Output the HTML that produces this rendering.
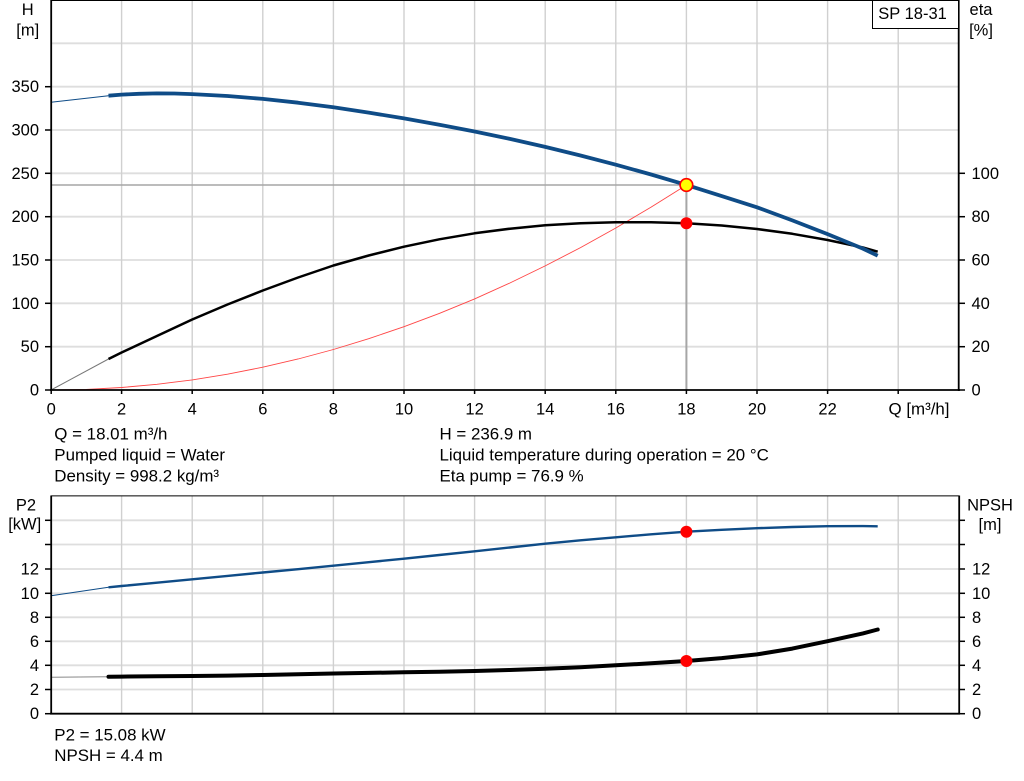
<!DOCTYPE html>
<html>
<head>
<meta charset="utf-8">
<style>
html,body{margin:0;padding:0;background:#fff;}
body{width:1024px;height:781px;overflow:hidden;position:relative;}
svg{position:absolute;left:0;top:0;}
text{font-family:"Liberation Sans",Arial,sans-serif;font-size:16.5px;fill:#000;}
text.info{font-size:16.9px;}
</style>
</head>
<body>
<svg width="1024" height="781" viewBox="0 0 1024 781" xmlns="http://www.w3.org/2000/svg">
<!-- ================= TOP CHART ================= -->
<g stroke="#dedede" stroke-width="1.8">
<line x1="51" y1="346.7" x2="959" y2="346.7"/>
<line x1="51" y1="303.3" x2="959" y2="303.3"/>
<line x1="51" y1="260" x2="959" y2="260"/>
<line x1="51" y1="216.7" x2="959" y2="216.7"/>
<line x1="51" y1="173.3" x2="959" y2="173.3"/>
<line x1="51" y1="130" x2="959" y2="130"/>
<line x1="51" y1="86.7" x2="959" y2="86.7"/>
<line x1="51" y1="43.3" x2="959" y2="43.3"/>
</g>
<g stroke="#d0d0d0" stroke-width="1.4">
<line x1="121.6" y1="0" x2="121.6" y2="390"/>
<line x1="192.2" y1="0" x2="192.2" y2="390"/>
<line x1="262.8" y1="0" x2="262.8" y2="390"/>
<line x1="333.4" y1="0" x2="333.4" y2="390"/>
<line x1="404" y1="0" x2="404" y2="390"/>
<line x1="474.6" y1="0" x2="474.6" y2="390"/>
<line x1="545.2" y1="0" x2="545.2" y2="390"/>
<line x1="615.8" y1="0" x2="615.8" y2="390"/>
<line x1="686.4" y1="0" x2="686.4" y2="390"/>
<line x1="757" y1="0" x2="757" y2="390"/>
<line x1="827.6" y1="0" x2="827.6" y2="390"/>
<line x1="898.2" y1="0" x2="898.2" y2="390"/>
</g>
<line x1="51" y1="185" x2="686.4" y2="185" stroke="#a6a6a6" stroke-width="1.6"/>
<line x1="686.4" y1="185" x2="686.4" y2="390" stroke="#a6a6a6" stroke-width="2"/>

<polyline fill="none" stroke="#ff4646" stroke-width="0.9" points="51,390 86.3,389.4 121.6,387.5 156.9,384.3 192.2,379.9 227.5,374.2 262.8,367.2 298.1,359 333.4,349.5 368.7,338.7 404,326.7 439.3,313.4 474.6,298.9 509.9,283 545.2,265.9 580.5,247.6 615.8,228 651.1,207.1 686.5,185"/>

<polyline fill="none" stroke="#777" stroke-width="1" points="51,390 108.5,359"/>
<polyline fill="none" stroke="#000" stroke-width="2.5" stroke-linejoin="round" points="108.5,359 121.6,352.5 156.9,336 192.2,319.5 227.5,304.5 262.8,290.5 298.1,277.5 333.4,265.5 368.7,255.5 404,246.7 439.3,239.3 474.6,233.3 509.9,228.7 545.2,225.3 580.5,223.2 615.8,222.3 651.1,222.2 686.4,223.3 721.7,225.5 757,229 792.3,233.8 827.6,240 862.9,247.5 877.7,251.7"/>

<polyline fill="none" stroke="#0f4c87" stroke-width="1" points="51,102.3 108.5,95.7"/>
<polyline fill="none" stroke="#0f4c87" stroke-width="3.8" stroke-linejoin="round" points="108.5,95.7 121.6,94.6 139,93.8 156.9,93.4 174.5,93.5 192.2,94.1 227.5,96 262.8,98.9 298.1,102.7 333.4,107.3 368.7,112.6 404,118.4 439.3,124.7 474.6,131.5 509.9,138.9 545.2,146.9 580.5,155.5 615.8,164.7 651.1,174.5 686.4,184.9 721.7,196 757,207.3 792.3,220.4 827.6,234.1 862.9,248.6 877.7,255.7"/>

<circle cx="686.4" cy="223.3" r="6" fill="#ff0000"/>
<circle cx="686.4" cy="185" r="6.3" fill="#ffff00" stroke="#ff0000" stroke-width="1.7"/>

<line x1="51" y1="0.5" x2="959" y2="0.5" stroke="#000" stroke-width="1"/>
<line x1="51.2" y1="0" x2="51.2" y2="391" stroke="#000" stroke-width="1.8"/>
<line x1="958.7" y1="0" x2="958.7" y2="391" stroke="#000" stroke-width="1.8"/>
<line x1="50" y1="390" x2="960" y2="390" stroke="#000" stroke-width="1.8"/>
<g stroke="#000" stroke-width="1.5">
<line x1="45" y1="390" x2="51" y2="390"/>
<line x1="45" y1="346.7" x2="51" y2="346.7"/>
<line x1="45" y1="303.3" x2="51" y2="303.3"/>
<line x1="45" y1="260" x2="51" y2="260"/>
<line x1="45" y1="216.7" x2="51" y2="216.7"/>
<line x1="45" y1="173.3" x2="51" y2="173.3"/>
<line x1="45" y1="130" x2="51" y2="130"/>
<line x1="45" y1="86.7" x2="51" y2="86.7"/>
<line x1="959" y1="390" x2="965" y2="390"/>
<line x1="959" y1="346.7" x2="965" y2="346.7"/>
<line x1="959" y1="303.3" x2="965" y2="303.3"/>
<line x1="959" y1="260" x2="965" y2="260"/>
<line x1="959" y1="216.7" x2="965" y2="216.7"/>
<line x1="959" y1="173.3" x2="965" y2="173.3"/>
<line x1="51.2" y1="390" x2="51.2" y2="394"/>
<line x1="121.6" y1="390" x2="121.6" y2="394"/>
<line x1="192.2" y1="390" x2="192.2" y2="394"/>
<line x1="262.8" y1="390" x2="262.8" y2="394"/>
<line x1="333.4" y1="390" x2="333.4" y2="394"/>
<line x1="404" y1="390" x2="404" y2="394"/>
<line x1="474.6" y1="390" x2="474.6" y2="394"/>
<line x1="545.2" y1="390" x2="545.2" y2="394"/>
<line x1="615.8" y1="390" x2="615.8" y2="394"/>
<line x1="686.4" y1="390" x2="686.4" y2="394"/>
<line x1="757" y1="390" x2="757" y2="394"/>
<line x1="827.6" y1="390" x2="827.6" y2="394"/>
<line x1="898.2" y1="390" x2="898.2" y2="394"/>
</g>
<g text-anchor="end">
<text x="39" y="395.5">0</text>
<text x="39" y="352.2">50</text>
<text x="39" y="308.8">100</text>
<text x="39" y="265.5">150</text>
<text x="39" y="222.2">200</text>
<text x="39" y="178.8">250</text>
<text x="39" y="135.5">300</text>
<text x="39" y="92.2">350</text>
</g>
<g text-anchor="start">
<text x="971.5" y="395.5">0</text>
<text x="971.5" y="352.2">20</text>
<text x="971.5" y="308.8">40</text>
<text x="971.5" y="265.5">60</text>
<text x="971.5" y="222.2">80</text>
<text x="971.5" y="178.8">100</text>
</g>
<g text-anchor="middle">
<text x="51.2" y="414.5">0</text>
<text x="121.6" y="414.5">2</text>
<text x="192.2" y="414.5">4</text>
<text x="262.8" y="414.5">6</text>
<text x="333.4" y="414.5">8</text>
<text x="404" y="414.5">10</text>
<text x="474.6" y="414.5">12</text>
<text x="545.2" y="414.5">14</text>
<text x="615.8" y="414.5">16</text>
<text x="686.4" y="414.5">18</text>
<text x="757" y="414.5">20</text>
<text x="827.6" y="414.5">22</text>
<text x="27.7" y="15">H</text>
<text x="27.7" y="35.5">[m]</text>
<text x="981" y="15">eta</text>
<text x="981" y="35.5">[%]</text>
</g>
<text x="888.5" y="414.5" class="info">Q [m³/h]</text>

<rect x="872.5" y="0.5" width="86" height="28" fill="#fff" stroke="#000" stroke-width="1"/>
<text x="878.3" y="19">SP 18-31</text>

<text class="info" x="54.3" y="439.5">Q = 18.01 m³/h</text>
<text class="info" x="54.3" y="460.5">Pumped liquid = Water</text>
<text class="info" x="54.3" y="481.5">Density = 998.2 kg/m³</text>
<text class="info" x="439.5" y="439.5">H = 236.9 m</text>
<text class="info" x="439.5" y="460.5">Liquid temperature during operation = 20 °C</text>
<text class="info" x="439.5" y="481.5">Eta pump = 76.9 %</text>

<!-- ================= BOTTOM CHART ================= -->
<g stroke="#dedede" stroke-width="1.8">
<line x1="51" y1="689.5" x2="959" y2="689.5"/>
<line x1="51" y1="665.3" x2="959" y2="665.3"/>
<line x1="51" y1="641.3" x2="959" y2="641.3"/>
<line x1="51" y1="617.3" x2="959" y2="617.3"/>
<line x1="51" y1="593.3" x2="959" y2="593.3"/>
<line x1="51" y1="569" x2="959" y2="569"/>
<line x1="51" y1="544.5" x2="959" y2="544.5"/>
<line x1="51" y1="520.3" x2="959" y2="520.3"/>
</g>
<g stroke="#d0d0d0" stroke-width="1.4">
<line x1="121.6" y1="496" x2="121.6" y2="714"/>
<line x1="192.2" y1="496" x2="192.2" y2="714"/>
<line x1="262.8" y1="496" x2="262.8" y2="714"/>
<line x1="333.4" y1="496" x2="333.4" y2="714"/>
<line x1="404" y1="496" x2="404" y2="714"/>
<line x1="474.6" y1="496" x2="474.6" y2="714"/>
<line x1="545.2" y1="496" x2="545.2" y2="714"/>
<line x1="615.8" y1="496" x2="615.8" y2="714"/>
<line x1="686.4" y1="496" x2="686.4" y2="714"/>
<line x1="757" y1="496" x2="757" y2="714"/>
<line x1="827.6" y1="496" x2="827.6" y2="714"/>
<line x1="898.2" y1="496" x2="898.2" y2="714"/>
</g>

<polyline fill="none" stroke="#0f4c87" stroke-width="1" points="51,595.7 108.5,587.3"/>
<polyline fill="none" stroke="#0f4c87" stroke-width="2.4" stroke-linejoin="round" points="108.5,587.3 121.6,586 156.9,582.7 192.2,579.3 227.5,575.9 262.8,572.5 298.1,569.2 333.4,565.7 368.7,562.2 404,558.7 439.3,555 474.6,551.3 509.9,547.5 545.2,543.7 580.5,540.3 615.8,537.3 651.1,534.3 686.4,531.7 721.7,529.8 757,528.2 792.3,527 827.6,526.2 862.9,526.1 877.7,526.3"/>

<polyline fill="none" stroke="#888" stroke-width="1" points="51,677.3 108.5,676.7"/>
<polyline fill="none" stroke="#000" stroke-width="4" stroke-linejoin="round" stroke-linecap="round" points="108.5,676.7 121.6,676.6 156.9,676.3 192.2,676 227.5,675.6 262.8,675 298.1,674.3 333.4,673.5 368.7,672.9 404,672.3 439.3,671.7 474.6,671 509.9,670 545.2,668.7 580.5,667.2 615.8,665.3 651.1,663.3 686.4,661 721.7,658.1 757,654.4 792.3,648.6 827.6,641.2 862.9,633.4 877.7,629.5"/>

<circle cx="686.4" cy="531.7" r="6" fill="#ff0000"/>
<circle cx="686.4" cy="661" r="6" fill="#ff0000"/>

<line x1="51" y1="495.9" x2="959" y2="495.9" stroke="#000" stroke-width="1"/>
<line x1="51.2" y1="495.5" x2="51.2" y2="714.5" stroke="#000" stroke-width="1.8"/>
<line x1="959.2" y1="495.5" x2="959.2" y2="714.5" stroke="#000" stroke-width="1.8"/>
<line x1="50" y1="713.7" x2="960" y2="713.7" stroke="#000" stroke-width="1.8"/>
<g stroke="#000" stroke-width="1.5">
<line x1="45" y1="713.7" x2="51" y2="713.7"/>
<line x1="45" y1="689.5" x2="51" y2="689.5"/>
<line x1="45" y1="665.3" x2="51" y2="665.3"/>
<line x1="45" y1="641.3" x2="51" y2="641.3"/>
<line x1="45" y1="617.3" x2="51" y2="617.3"/>
<line x1="45" y1="593.3" x2="51" y2="593.3"/>
<line x1="45" y1="569" x2="51" y2="569"/>
<line x1="45" y1="544.5" x2="51" y2="544.5"/>
<line x1="45" y1="520.3" x2="51" y2="520.3"/>
<line x1="959" y1="713.7" x2="965" y2="713.7"/>
<line x1="959" y1="689.5" x2="965" y2="689.5"/>
<line x1="959" y1="665.3" x2="965" y2="665.3"/>
<line x1="959" y1="641.3" x2="965" y2="641.3"/>
<line x1="959" y1="617.3" x2="965" y2="617.3"/>
<line x1="959" y1="593.3" x2="965" y2="593.3"/>
<line x1="959" y1="569" x2="965" y2="569"/>
<line x1="959" y1="544.5" x2="965" y2="544.5"/>
<line x1="959" y1="520.3" x2="965" y2="520.3"/>
</g>
<g text-anchor="end">
<text x="39" y="719.2">0</text>
<text x="39" y="695">2</text>
<text x="39" y="670.8">4</text>
<text x="39" y="646.8">6</text>
<text x="39" y="622.8">8</text>
<text x="39" y="598.8">10</text>
<text x="39" y="574.5">12</text>
</g>
<g text-anchor="start">
<text x="972" y="719.2">0</text>
<text x="972" y="695">2</text>
<text x="972" y="670.8">4</text>
<text x="972" y="646.8">6</text>
<text x="972" y="622.8">8</text>
<text x="972" y="598.8">10</text>
<text x="972" y="574.5">12</text>
</g>
<g text-anchor="middle">
<text x="26" y="510.7">P2</text>
<text x="24.7" y="529.5">[kW]</text>
<text x="990" y="510.7">NPSH</text>
<text x="990" y="530">[m]</text>
</g>
<text class="info" x="54.3" y="740.7">P2 = 15.08 kW</text>
<text class="info" x="54.3" y="761">NPSH = 4.4 m</text>
</svg>
</body>
</html>
